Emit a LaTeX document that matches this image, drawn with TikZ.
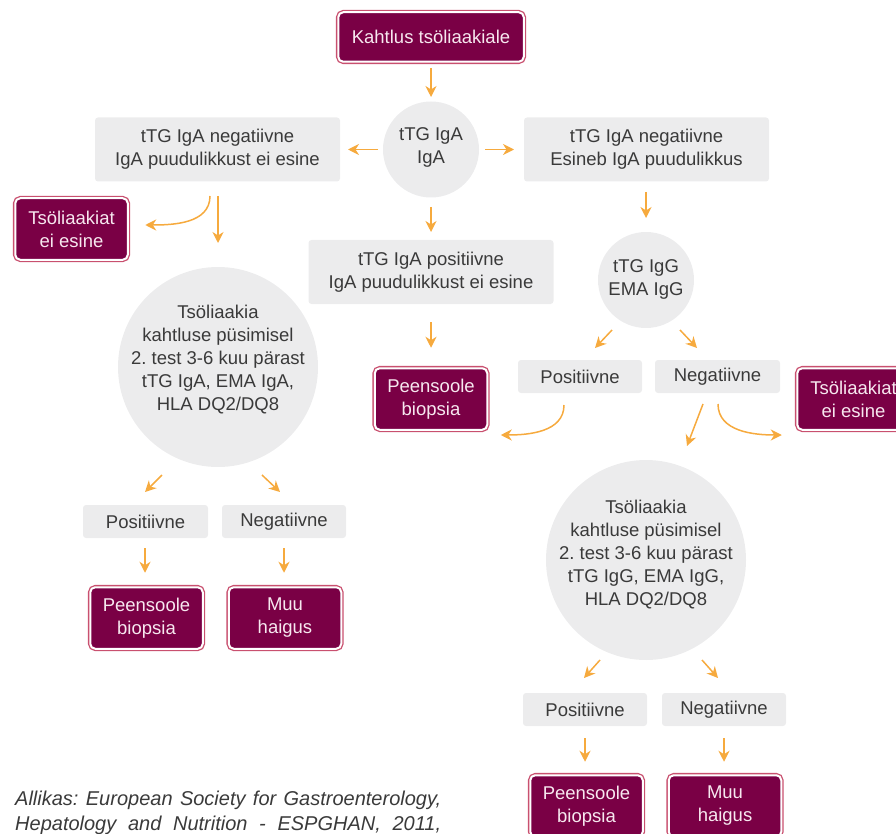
\documentclass[tikz,border=0pt]{standalone}
\usepackage{fontspec}
\setmainfont{Liberation Sans}
\usetikzlibrary{arrows.meta,calc}
\definecolor{boxred}{HTML}{7A0045}
\definecolor{boxrim}{HTML}{C9506F}
\definecolor{redtxt}{HTML}{F7E8EF}
\definecolor{boxgray}{HTML}{ECECED}
\definecolor{txtgray}{HTML}{3A3A3A}
\definecolor{flowor}{HTML}{F6AA3E}
\frenchspacing
\begin{document}
\begin{tikzpicture}[x=1pt, y=-1pt,
  font=\fontsize{18.5}{23}\selectfont,
  flow/.style={draw=flowor, line width=1.5pt, -{Stealth[length=11pt,width=11pt,inset=3.5pt]}},
  redbox/.style={fill=boxred, draw=white, line width=2pt, rounded corners=5pt,
    preaction={draw=boxrim, line width=4.6pt}, text=redtxt, align=center,
    inner sep=0pt, outer sep=0pt, minimum width=112.5pt, minimum height=61.5pt},
  graybox/.style={fill=boxgray, rounded corners=3pt, text=txtgray, align=center,
    inner sep=0pt, outer sep=0pt, minimum width=245pt, minimum height=64pt},
  smallgray/.style={graybox, minimum width=124pt, minimum height=33pt},
  graycirc/.style={circle, fill=boxgray, inner sep=0pt, outer sep=0pt},
  circtxt/.style={align=center, text=txtgray}]
\useasboundingbox (0,0) rectangle (896,834);
\clip (0,0) rectangle (896,834);
% top
\node[redbox, minimum width=185.5pt, minimum height=49.5pt] (start) at (431,37) {Kahtlus tsöliaakiale};
\node[graycirc, minimum size=96pt, label={[circtxt, yshift=2pt]center:{tTG IgA\\IgA}}] (c1) at (431,149.5) {};
\node[graybox] (lneg) at (217.5,149.5) {tTG IgA negatiivne\\IgA puudulikkust ei esine};
\node[graybox] (rneg) at (646.5,149.5) {tTG IgA negatiivne\\Esineb IgA puudulikkus};
\node[graybox] (mpos) at (431,272) {tTG IgA positiivne\\IgA puudulikkust ei esine};
\node[redbox] (mbiop) at (431,399) {Peensoole\\biopsia};
% left branch
\node[redbox] (ltsl) at (71.5,229) {Tsöliaakiat\\ei esine};
\node[graycirc, minimum size=200pt, label={[circtxt, yshift=7pt]center:{Tsöliaakia\\kahtluse püsimisel\\2. test 3-6 kuu pärast\\tTG IgA, EMA IgA,\\HLA DQ2/DQ8}}] (lc) at (218,367) {};
\node[smallgray, minimum width=125pt] (lpos) at (145.5,521.5) {Positiivne};
\node[smallgray] (lneg2) at (284,521.5) {Negatiivne};
\node[redbox] (lbiop) at (146.5,618) {Peensoole\\biopsia};
\node[redbox] (lmuu) at (285,618) {Muu\\haigus};
% right branch
\node[graycirc, minimum size=96pt, label={[circtxt, yshift=1pt]center:{tTG IgG\\EMA IgG}}] (rc) at (646,280) {};
\node[smallgray] (rpos) at (580,376.5) {Positiivne};
\node[smallgray, minimum width=125pt] (rneg2) at (717.5,376.5) {Negatiivne};
\node[redbox] (rtsl) at (853.5,399) {Tsöliaakiat\\ei esine};
\node[graycirc, minimum size=200pt, label={[circtxt, yshift=5pt]center:{Tsöliaakia\\kahtluse püsimisel\\2. test 3-6 kuu pärast\\tTG IgG, EMA IgG,\\HLA DQ2/DQ8}}] (rc2) at (646,560) {};
\node[smallgray] (rpos2) at (585,709.5) {Positiivne};
\node[smallgray] (rneg3) at (724,709.5) {Negatiivne};
\node[redbox] (rbiop) at (586.5,806) {Peensoole\\biopsia};
\node[redbox] (rmuu) at (725,806) {Muu\\haigus};
% source
\node[anchor=base west, inner sep=0pt, text=txtgray, font=\fontsize{20}{25}\selectfont\itshape] (src1) at (15,805)
  {\makebox[426pt][s]{Allikas: European Society for Gastroenterology,}};
\node[anchor=base west, inner sep=0pt, text=txtgray, font=\fontsize{20}{25}\selectfont\itshape] (src2) at (15,830)
  {\makebox[426pt][s]{Hepatology and Nutrition - ESPGHAN, 2011,}};
% arrows top
\draw[flow] ($(start.south)+(0,6.5)$) -- ($(c1.north)+(0,-4.5)$);
\draw[flow] ($(c1.west)+(-5,0)$) -- ($(lneg.east)+(8,0)$);
\draw[flow] ($(c1.east)+(6,0)$) -- ($(rneg.west)+(-10,0)$);
\draw[flow] ($(c1.south)+(0,9.5)$) -- ($(mpos.north)+(0,-8)$);
\draw[flow] ($(mpos.south)+(0,18)$) -- ($(mbiop.north)+(0,-20.5)$);
% arrows left
\draw[flow] ($(lneg.south)+(-7.5,14.5)$) to[out=-90, in=0] ($(ltsl.east)+(17.5,-4)$);
\draw[flow] ($(lneg.south)+(0.5,14.5)$) -- ($(lc.north)+(0,-24)$);
\draw[flow] ($(lc.south)+(-56,8)$) -- ($(lpos.north)+(-0.5,-13)$);
\draw[flow] ($(lc.south)+(44,8)$) -- ($(lneg2.north)+(-4,-13)$);
\draw[flow] ($(lpos.south)+(-0.5,10)$) -- ($(lbiop.north)+(-1.5,-14.5)$);
\draw[flow] ($(lneg2.south)+(0,10)$) -- ($(lmuu.north)+(-1,-14.5)$);
% arrows right
\draw[flow] ($(rneg.south)+(-0.5,10.5)$) -- ($(rc.north)+(0,-14)$);
\draw[flow] ($(rc.south)+(-34,2)$) -- ($(rpos.north)+(15,-12)$);
\draw[flow] ($(rc.south)+(34,2)$) -- ($(rneg2.north)+(-20.5,-12)$);
\draw[flow] ($(rpos.south)+(-16,12)$) to[out=-90, in=0] ($(mbiop.east)+(13.5,36)$);
\draw[flow] ($(rneg2.south)+(-14.5,11)$) -- ($(rc2.north)+(41,-14)$);
\draw[flow] ($(rneg2.south)+(0.5,11)$) to[out=-90, in=180] ($(rtsl.west)+(-15.5,36)$);
\draw[flow] ($(rc2.south)+(-46,0)$) -- ($(rpos2.north)+(-1,-15)$);
\draw[flow] ($(rc2.south)+(56,0)$) -- ($(rneg3.north)+(-6,-15)$);
\draw[flow] ($(rpos2.south)+(0,12)$) -- ($(rbiop.north)+(-1.5,-13.5)$);
\draw[flow] ($(rneg3.south)+(0,12)$) -- ($(rmuu.north)+(-1,-13.5)$);
\end{tikzpicture}
\end{document}
